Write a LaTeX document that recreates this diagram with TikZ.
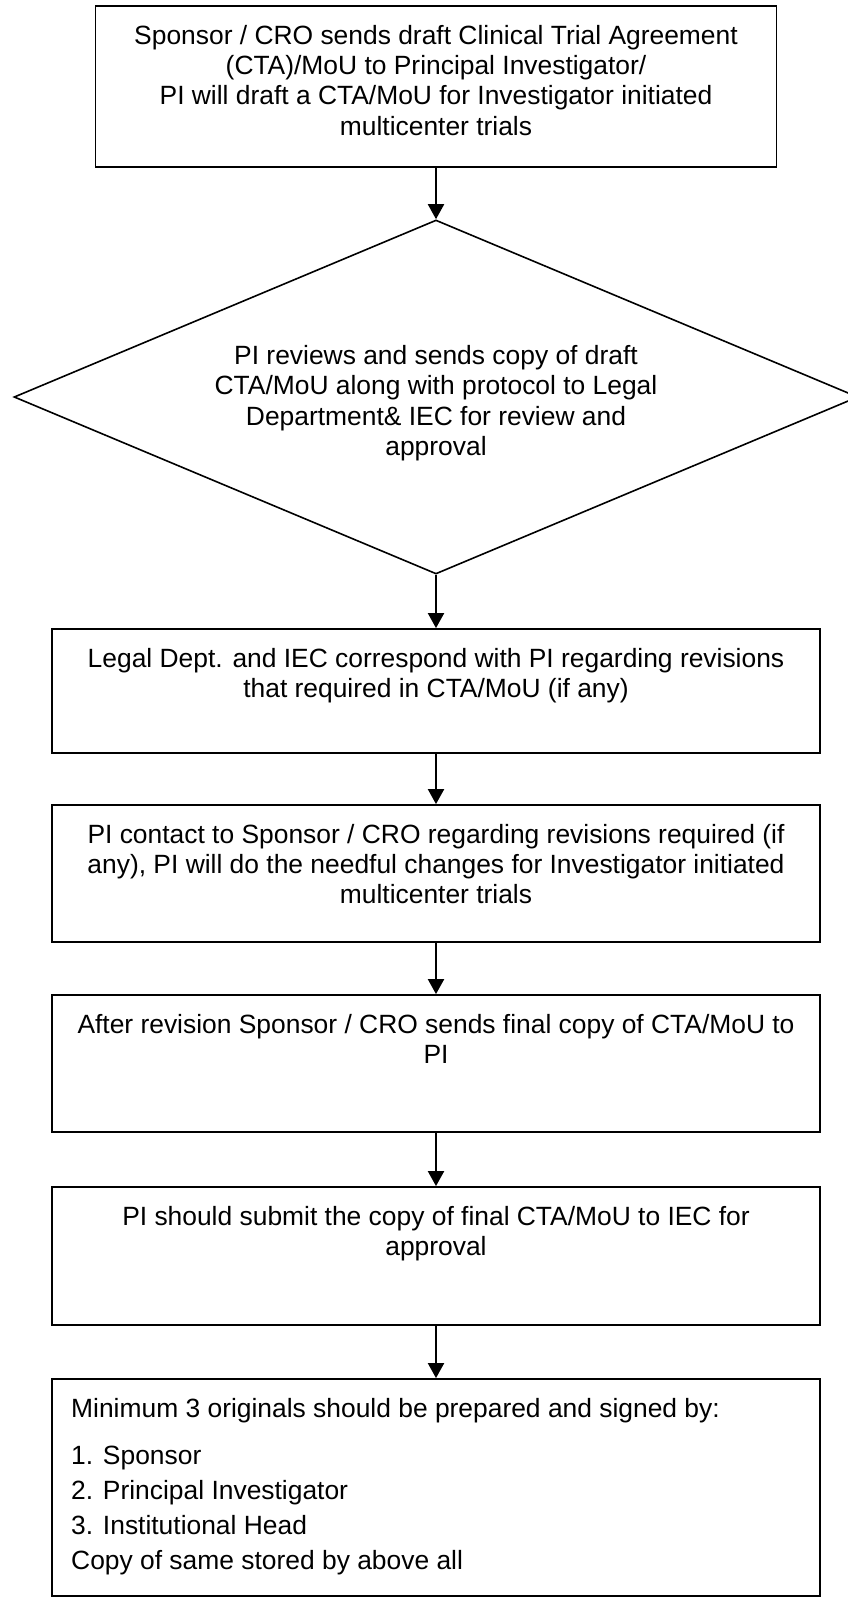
\documentclass[tikz,border=0pt]{standalone}
\usepackage{fontspec}
\setmainfont{Liberation Sans}
\usetikzlibrary{shapes.geometric,arrows.meta}
\begin{document}
\begin{tikzpicture}[x=1pt,y=-1pt,
  box/.style={draw, line width=1.8pt, rectangle, inner sep=0pt, minimum width=768pt},
  decision/.style={draw, line width=1.6pt, diamond, inner sep=0pt,
    minimum width=844pt, minimum height=354pt},
  txt/.style={align=center, inner sep=0pt, anchor=north,
    font=\fontsize{26.4pt}{30.4pt}\selectfont},
  flow/.style={-{Triangle[length=15pt,width=16pt]}, line width=2pt}]
\clip (0,0) rectangle (848,1599);
\fill[white] (0,0) rectangle (848,1599);

% boxes
\node[box, minimum width=681pt, minimum height=161pt] (b1) at (436, 86.5) {};
\node[decision] (d) at (436, 397) {};
\node[box, minimum height=124pt] (b2) at (436, 691) {};
\node[box, minimum height=137pt] (b3) at (436, 873.5) {};
\node[box, minimum height=137pt] (b4) at (436, 1063.5) {};
\node[box, minimum height=138pt] (b5) at (436, 1256) {};
\node[box, minimum height=217pt] (b6) at (436, 1487.5) {};

% texts
\node[txt] (t1) at (436, 22.7) {\strut Sponsor / CRO sends draft Clinical Trial Agreement\\
  (CTA)/MoU to Principal Investigator/\\
  PI will draft a CTA/MoU for Investigator initiated\\
  multicenter trials};
\node[txt] (td) at (436, 343) {\strut PI reviews and sends copy of draft\\
  CTA/MoU along with protocol to Legal\\
  Department\& IEC for review and\\
  approval};
\node[txt] (t2) at (436, 645.7) {\strut Legal Dept. and IEC correspond with PI regarding revisions\\
  that required in CTA/MoU (if any)};
\node[txt] (t3) at (436, 821.7) {\strut PI contact to Sponsor / CRO regarding revisions required (if\\
  any), PI will do the needful changes for Investigator initiated\\
  multicenter trials};
\node[txt] (t4) at (436, 1011.7) {\strut After revision Sponsor / CRO sends final copy of CTA/MoU to\\
  PI};
\node[txt] (t5) at (436, 1203.7) {\strut PI should submit the copy of final CTA/MoU to IEC for\\
  approval};
\node[txt, align=left, anchor=north west] (t6) at (71, 1395.7)
  {\strut Minimum 3 originals should be prepared and signed by:\\[16.6pt]
  1. Sponsor\\[4.6pt]
  2. Principal Investigator\\[4.6pt]
  3. Institutional Head\\[4.6pt]
  Copy of same stored by above all};

% connectors
\draw[flow] (b1.south) -- (d.north);
\draw[flow] (d.south) -- (b2.north);
\draw[flow] (b2.south) -- (b3.north);
\draw[flow] (b3.south) -- (b4.north);
\draw[flow] (b4.south) -- (b5.north);
\draw[flow] (b5.south) -- (b6.north);
\end{tikzpicture}
\end{document}
